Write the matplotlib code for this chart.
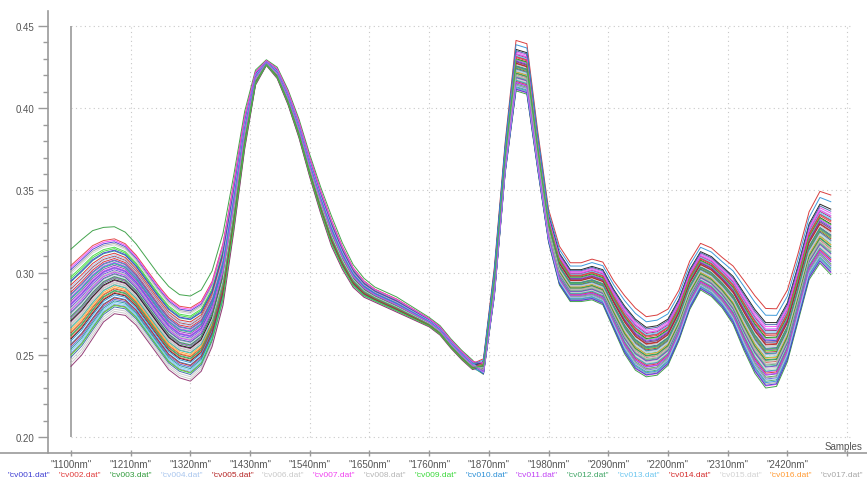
import numpy as np
import matplotlib
matplotlib.use("Agg")
import matplotlib.pyplot as plt
from matplotlib.ticker import FixedLocator

plt.rcParams['font.family'] = ['Liberation Sans', 'DejaVu Sans']

# longitudes de onda (nm), paso de 20 nm
wavelengths = np.arange(1100, 2520, 20)

# envolvente inferior y superior del haz de espectros
band_low = [0.243, 0.250, 0.260, 0.270, 0.275, 0.274, 0.268, 0.259, 0.250, 0.241,
            0.236, 0.234, 0.240, 0.255, 0.280, 0.325, 0.375, 0.414, 0.426, 0.418,
            0.402, 0.382, 0.358, 0.336, 0.316, 0.302, 0.291, 0.285, 0.282, 0.279,
            0.276, 0.273, 0.270, 0.267, 0.262, 0.254, 0.247, 0.241, 0.238, 0.285,
            0.360, 0.410, 0.408, 0.362, 0.318, 0.292, 0.282, 0.282, 0.283, 0.280,
            0.265, 0.250, 0.240, 0.236, 0.237, 0.243, 0.258, 0.277, 0.289, 0.285,
            0.278, 0.268, 0.252, 0.238, 0.229, 0.230, 0.245, 0.270, 0.295, 0.305,
            0.298]
band_high = [0.305, 0.311, 0.317, 0.320, 0.321, 0.318, 0.311, 0.302, 0.293, 0.285,
             0.280, 0.279, 0.283, 0.295, 0.318, 0.355, 0.395, 0.422, 0.429, 0.424,
             0.410, 0.392, 0.370, 0.350, 0.332, 0.316, 0.303, 0.295, 0.290, 0.287,
             0.284, 0.280, 0.276, 0.272, 0.267, 0.259, 0.252, 0.246, 0.246, 0.300,
             0.376, 0.436, 0.434, 0.382, 0.335, 0.312, 0.302, 0.302, 0.304, 0.302,
             0.290, 0.280, 0.272, 0.267, 0.268, 0.272, 0.284, 0.302, 0.313, 0.310,
             0.304, 0.298, 0.288, 0.278, 0.270, 0.270, 0.282, 0.305, 0.330, 0.342,
             0.339]

# posicion relativa de cada muestra dentro del haz (zona izquierda / derecha)
pos_left = [0.95, 0.12, 1.15, 0.78, 0.33, 0.06, 0.68, 0.41, 0.88, 0.22,
            0.60, 0.47, 0.15, 0.73, 0.91, 0.36, 0.52, 0.27, 0.83, 0.64,
            0.09, 0.44, 0.70, 0.19, 0.58, 0.99, 0.30, 0.50, 0.76, 0.03,
            0.62, 0.39, 0.86, 0.25, 0.48, 0.66, 0.13, 0.80, 0.57, 0.34,
            0.93, 0.45, 0.17, 0.71, 0.53, 0.00, 0.38, 0.61, 0.84, 0.28,
            0.49, 0.75, 0.21, 0.42, 0.97, 0.56, 0.11, 0.67, 0.55, 0.31]
pos_right = [0.72, 0.40, 0.18, 0.90, 0.55, 0.31, 0.05, 0.64, 0.47, 0.83,
             0.26, 0.12, 0.69, 1.20, 0.38, 0.58, 0.08, 0.77, 0.44, 0.21,
             0.61, 0.87, 0.34, 0.52, 0.15, 0.80, 0.02, 0.49, 0.66, 0.29,
             0.93, 0.41, 0.57, 0.10, 0.74, 0.36, 0.85, 0.24, 0.63, 0.46,
             0.17, 0.99, 0.53, 0.33, 0.96, 0.70, 0.27, 0.59, 0.06, 0.82,
             0.43, 0.14, 0.67, 0.51, 0.89, 0.37, 0.76, 1.10, 0.22, 0.60]

sample_names = ['cv%03d.dat' % (i + 1) for i in range(len(pos_left))]

# paleta tipo gnuplot (las 17 primeras salen en la leyenda)
colors = ['#3c3cd2', '#e03a3a', '#2f9a3a', '#a9c6ee', '#b52323', '#c9c9c9',
          '#f040f0', '#b5b5b5', '#3ad83a', '#2a8fd6', '#c040f5', '#3fa565',
          '#6cc6ef', '#d42a2a', '#d2d2d2', '#ff9a33', '#a6a6a6', '#111111',
          '#1f8f8f', '#7a3fc0', '#3b5ea8', '#8a2a6a', '#2bb5a0', '#5a5ad8']

x_ticks = np.arange(1100, 2640, 110)
x_labels = ['"%dnm"' % t for t in x_ticks[:13]] + ['']

fig = plt.figure(figsize=(8.67, 4.81), dpi=100)
W, H = 867.0, 481.0
ax = fig.add_axes([0, 1 - 454 / H, 1, (454 - 12) / H])
ax.set_xlim(969.2, 2566.7)
ax.set_ylim(0.1903, 0.4591)

low = np.array(band_low)
high = np.array(band_high)
for i in range(len(pos_left)):
    frac = np.where(wavelengths < 1850, pos_left[i], pos_right[i])
    y = low + frac * (high - low)
    ax.plot(wavelengths, y, color=colors[i % len(colors)], lw=0.7, alpha=0.9)

# rejilla punteada solo dentro de la zona de datos
grid_kw = dict(color='#c8c8c8', lw=0.8, linestyles=(0, (1, 3)), zorder=0)
ax.hlines(np.arange(0.20, 0.46, 0.05), 1100, 2535, **grid_kw)
ax.vlines(x_ticks[1:], 0.20, 0.45, **grid_kw)
ax.vlines(1100, 0.20, 0.45, color='#9a9a9a', lw=1.2, zorder=1)

for s in ['top', 'right']:
    ax.spines[s].set_visible(False)
ax.spines['left'].set_position(('data', 1057.6))
ax.spines['left'].set_color('#9a9a9a')
ax.spines['left'].set_linewidth(1.2)
ax.spines['bottom'].set_color('#9a9a9a')
ax.spines['bottom'].set_linewidth(1.2)

ax.yaxis.set_major_locator(FixedLocator([0.20, 0.25, 0.30, 0.35, 0.40, 0.45]))
ax.yaxis.set_minor_locator(FixedLocator(np.arange(0.21, 0.445, 0.01)))
ax.set_yticklabels(['0.20', '0.25', '0.30', '0.35', '0.40', '0.45'])
ax.tick_params(axis='y', which='major', length=7, width=1, color='#9a9a9a',
               labelsize=7, labelcolor='#555555', pad=3)
ax.tick_params(axis='y', which='minor', length=3.5, width=1, color='#9a9a9a')

ax.set_xticks(x_ticks)
ax.set_xticklabels(x_labels)
ax.tick_params(axis='x', direction='inout', length=5, width=1, color='#9a9a9a',
               labelsize=7, labelcolor='#555555', pad=1.5)

fig.text(862 / W, 1 - 447 / H, 'Samples', fontsize=7, color='#555555',
         ha='right', va='center')

# leyenda en una fila bajo el eje
for i, name in enumerate(sample_names[:17]):
    fig.text((8 + i * 50.8) / W, 1 - 476 / H, '"%s"' % name, fontsize=6,
             color=colors[i], ha='left', va='center')

fig.savefig('out.png', dpi=100)
